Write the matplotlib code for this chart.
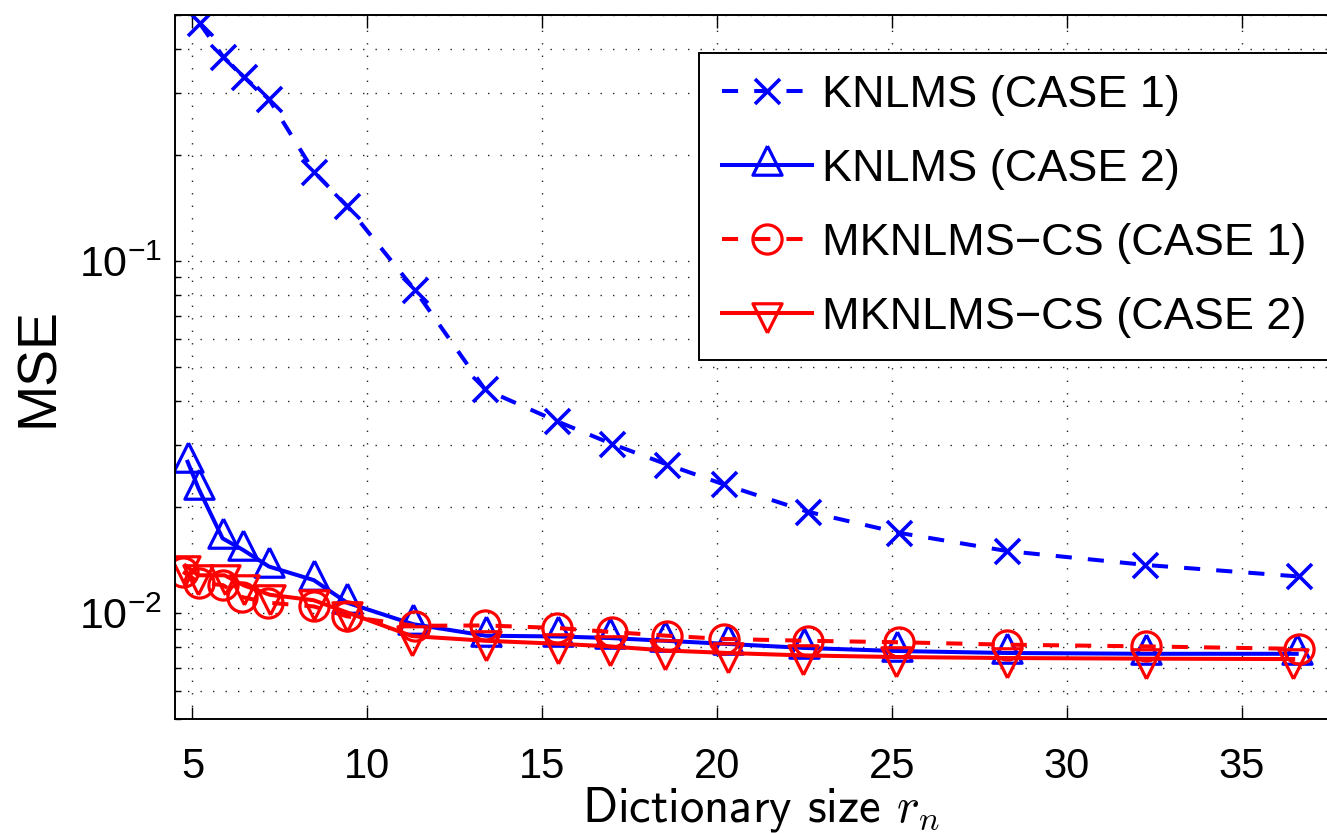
import math
import matplotlib
matplotlib.use('Agg')
import matplotlib.pyplot as plt
from matplotlib.ticker import FixedLocator, FuncFormatter, NullFormatter, NullLocator

plt.rcParams.update({'font.family': 'Liberation Sans', 'mathtext.fontset': 'cm'})

# KNLMS (CASE 1)
x_knlms1 = [5.21, 5.88, 6.46, 7.19, 8.48, 9.43, 11.36, 13.36, 15.41, 17.0, 18.58,
            20.19, 22.59, 25.2, 28.29, 32.24, 36.63]
y_knlms1 = [0.473, 0.380, 0.334, 0.288, 0.179, 0.143, 0.0827, 0.0432, 0.0351, 0.0302,
            0.0264, 0.0232, 0.0194, 0.0169, 0.0150, 0.0137, 0.0127]

# KNLMS (CASE 2)
x_knlms2 = [4.86, 5.18, 5.86, 6.45, 7.19, 8.47, 9.42, 11.3, 13.39, 15.45, 16.95,
            18.52, 20.3, 22.48, 25.15, 28.29, 32.25, 36.57]
y_knlms2 = [0.0269, 0.0225, 0.0163, 0.0151, 0.01355, 0.0124, 0.0107, 0.0093, 0.00862,
            0.00858, 0.00849, 0.00834, 0.00817, 0.00796, 0.00780, 0.00770, 0.00766, 0.00766]

# MKNLMS-CS (CASE 1)
x_mk1 = [4.73, 5.2, 5.87, 6.42, 7.17, 8.47, 9.43, 11.36, 13.37, 15.41, 17.0, 18.58,
         20.2, 22.6, 25.2, 28.3, 32.26, 36.64]
y_mk1 = [0.0131, 0.0122, 0.0120, 0.0111, 0.0107, 0.01044, 0.00978, 0.0092, 0.00922,
         0.00907, 0.00883, 0.00862, 0.00844, 0.00834, 0.00826, 0.00813, 0.00804, 0.00791]

# MKNLMS-CS (CASE 2)
x_mk2 = [4.8, 5.16, 5.92, 6.47, 7.21, 8.47, 9.42, 11.28, 13.39, 15.45, 16.93, 18.5,
         20.3, 22.45, 25.1, 28.29, 32.25, 36.47]
y_mk2 = [0.01364, 0.0128, 0.0128, 0.01198, 0.01127, 0.01087, 0.01004, 0.0086, 0.00834,
         0.00818, 0.00804, 0.00783, 0.00770, 0.00758, 0.00750, 0.00745, 0.00742, 0.00740]

labels = ['KNLMS (CASE 1)', 'KNLMS (CASE 2)', 'MKNLMS\u2212CS (CASE 1)', 'MKNLMS\u2212CS (CASE 2)']

# triangles centred on their centroid, like MATLAB markers
tri_up = [(0, 1), (-0.75, -0.5), (0.75, -0.5), (0, 1)]
tri_down = [(0, -1), (-0.75, 0.5), (0.75, 0.5), (0, -1)]

fig = plt.figure(figsize=(13.27, 8.33), dpi=100)
ax = fig.add_axes([175 / 1327, 1 - 719 / 833, (1346.7 - 175) / 1327, 704 / 833])

lw = 2.9
ax.plot(x_knlms1, y_knlms1, color='#0000ff', lw=lw, dashes=(4, 4), marker='x',
        ms=18, mew=2.6, label=labels[0])
ax.plot(x_knlms2, y_knlms2, color='#0000ff', lw=lw, marker=tri_up, ms=28,
        mfc='none', mew=2.3, label=labels[1])
ax.plot(x_mk1, y_mk1, color='#ff0000', lw=lw, dashes=(4, 4), marker='o', ms=21,
        mfc='none', mew=2.3, label=labels[2])
ax.plot(x_mk2, y_mk2, color='#ff0000', lw=lw, marker=tri_down, ms=28,
        mfc='none', mew=2.3, label=labels[3])

ax.set_yscale('log')
ax.set_xlim(4.5, 38)
ax.set_ylim(0.005, 0.5)

ax.xaxis.set_major_locator(FixedLocator([5, 10, 15, 20, 25, 30, 35]))
ax.xaxis.set_minor_locator(NullLocator())
ax.yaxis.set_major_locator(FixedLocator([0.01, 0.1]))
ax.yaxis.set_minor_locator(FixedLocator([k * 10.0 ** e for e in (-3, -2, -1) for k in range(2, 10)]))
ax.yaxis.set_major_formatter(FuncFormatter(lambda v, p: r'$\mathregular{10^{%d}}$' % round(math.log10(v))))
ax.yaxis.set_minor_formatter(NullFormatter())

ax.tick_params(which='both', direction='in', top=True, right=True, width=1.0, colors='black')
ax.tick_params(axis='x', which='major', length=9, pad=20, labelsize=30)
ax.tick_params(axis='y', which='major', length=4, pad=9, labelsize=31)
ax.tick_params(axis='y', which='minor', length=4)
for s in ax.spines.values():
    s.set_linewidth(1.4)

grid_kw = dict(color='0.15', linestyle=(0, (1, 8)), linewidth=1.0)
ax.grid(True, axis='x', which='major', **grid_kw)
ax.grid(True, axis='y', which='both', **grid_kw)

ax.set_ylabel('MSE', fontsize=40)
ax.yaxis.set_label_coords(65 / 1327, 1 - 367 / 833, transform=fig.transFigure)
ax.set_xlabel(r'Dictionary size $r_n$', fontsize=35, fontfamily='cmss10', va='baseline')
ax.xaxis.set_label_coords(761 / 1327, 1 - 822 / 833, transform=fig.transFigure)

# legend frame runs off the right edge, as in the reference
leg_x0, leg_top, leg_bot = 699 / 1327, 1 - 52.7 / 833, 1 - 361.7 / 833
leg = ax.legend(loc='upper left', mode='expand',
                bbox_to_anchor=(leg_x0, leg_bot, 1360 / 1327 - leg_x0, leg_top - leg_bot),
                bbox_transform=fig.transFigure, borderaxespad=0, fontsize=32.4,
                fancybox=False, framealpha=1, edgecolor='black', handlelength=2.0,
                handletextpad=0.24, labelspacing=0.73, borderpad=0.5)
leg.get_frame().set_linewidth(1.4)

fig.savefig('out.png', dpi=100)
